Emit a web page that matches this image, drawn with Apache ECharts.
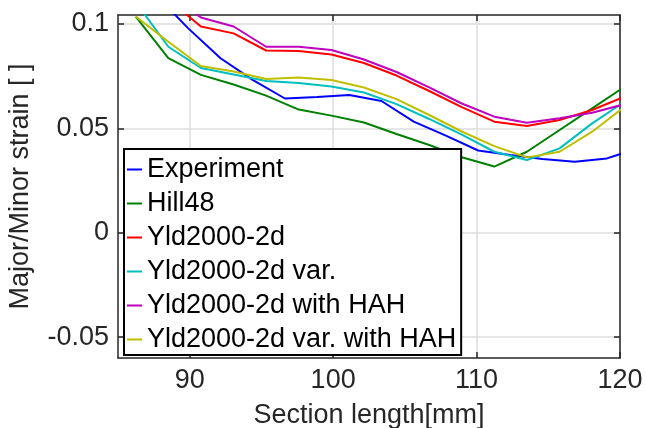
<!DOCTYPE html>
<html>
<head>
<meta charset="utf-8">
<script src="https://cdn.jsdelivr.net/npm/echarts@6/dist/echarts.min.js"></script>
<style>html,body{margin:0;padding:0;background:#fff}#c{width:646px;height:428px}</style>
</head>
<body>
<div id="c"></div>
<script>
var seriesNames = ['Experiment', 'Hill48', 'Yld2000-2d', 'Yld2000-2d var.', 'Yld2000-2d with HAH', 'Yld2000-2d var. with HAH'];
var expX = [87.66, 89.90, 92.15, 94.39, 96.64, 98.88, 101.13, 103.37, 105.62, 107.86, 110.11, 112.35, 114.60, 116.84, 119.09, 121.33];
var experiment = [0.1137, 0.0979, 0.0836, 0.0732, 0.0643, 0.0650, 0.0660, 0.0631, 0.0532, 0.0465, 0.0394, 0.0372, 0.0353, 0.0340, 0.0356, 0.0406];
var modelX = [86.24, 88.51, 90.78, 93.06, 95.33, 97.60, 99.88, 102.15, 104.42, 106.70, 108.97, 111.24, 113.51, 115.79, 118.06, 120.33];
var hill48 = [0.1035, 0.0836, 0.0756, 0.0710, 0.0657, 0.0590, 0.0561, 0.0528, 0.0473, 0.0420, 0.0362, 0.0317, 0.0388, 0.0492, 0.0596, 0.0700];
var yld = [0.125, 0.1118, 0.0988, 0.0955, 0.0873, 0.0871, 0.0854, 0.0813, 0.0753, 0.0679, 0.0602, 0.0532, 0.0511, 0.0540, 0.0588, 0.0652];
var yldVar = [0.1104, 0.0891, 0.0789, 0.0758, 0.0727, 0.0717, 0.0700, 0.0672, 0.0616, 0.0545, 0.0470, 0.0388, 0.0348, 0.0404, 0.0524, 0.0628];
var yldHAH = [0.125, 0.1139, 0.1031, 0.0988, 0.0891, 0.0891, 0.0875, 0.0830, 0.0770, 0.0696, 0.0619, 0.0556, 0.0527, 0.0548, 0.0575, 0.0616];
var yldVarHAH = [0.1036, 0.0915, 0.0799, 0.0772, 0.0736, 0.0744, 0.0732, 0.0696, 0.0640, 0.0564, 0.0485, 0.0415, 0.0361, 0.0388, 0.0484, 0.0604];
var xTicks = [90, 100, 110, 120];
var xTickLabels = ['90', '100', '110', '120'];
var yTicks = [-0.05, 0, 0.05, 0.1];
var yTickLabels = ['-0.05', '0', '0.05', '0.1'];
var colors = ['#0000ff', '#008000', '#ff0000', '#00bfbf', '#bf00bf', '#bfbf00'];

function pairs(xs, ys) { return xs.map(function (x, i) { return [x, ys[i]]; }); }
function labelFor(ticks, labels) {
  return function (v) {
    for (var i = 0; i < ticks.length; i++) { if (Math.abs(ticks[i] - v) < 1e-9) return labels[i]; }
    return '';
  };
}
var FONT = 'Liberation Sans, Arial, sans-serif';
var axisColor = '#262626';
var dataSets = [pairs(expX, experiment), pairs(modelX, hill48), pairs(modelX, yld), pairs(modelX, yldVar), pairs(modelX, yldHAH), pairs(modelX, yldVarHAH)];

var chart = echarts.init(document.getElementById('c'), null, {renderer: 'canvas'});
function mkX(pos, showLabel) {
  return {
    type: 'value', position: pos, min: 85, max: 120,
    name: showLabel ? 'Section length[mm]' : '', nameLocation: 'middle', nameGap: 44,
    nameTextStyle: {fontSize: 27, color: '#262626', fontFamily: FONT},
    axisLine: {show: true, onZero: false, lineStyle: {color: axisColor, width: 1.5}},
    axisTick: {show: true, inside: true, length: 6, customValues: xTicks, lineStyle: {color: axisColor, width: 1.5}},
    axisLabel: {show: showLabel, customValues: xTicks, formatter: labelFor(xTicks, xTickLabels), fontSize: 27, color: '#262626', fontFamily: FONT, margin: 9},
    splitLine: {show: showLabel, lineStyle: {color: '#dcdcdc', width: 1.5}}
  };
}
function mkY(pos, showLabel) {
  return {
    type: 'value', position: pos, min: -0.06, max: 0.1043,
    name: showLabel ? 'Major/Minor strain [ ]' : '', nameLocation: 'middle', nameGap: 84,
    nameTextStyle: {fontSize: 27, color: '#262626', fontFamily: FONT},
    axisLine: {show: true, onZero: false, lineStyle: {color: axisColor, width: 1.5}},
    axisTick: {show: true, inside: true, length: 6, customValues: yTicks, lineStyle: {color: axisColor, width: 1.5}},
    axisLabel: {show: showLabel, customValues: yTicks, formatter: labelFor(yTicks, yTickLabels), fontSize: 27, color: '#262626', fontFamily: FONT, margin: 9},
    splitLine: {show: showLabel, lineStyle: {color: '#dcdcdc', width: 1.5}}
  };
}
chart.setOption({
  animation: false,
  backgroundColor: '#fff',
  grid: {left: 118, right: 26, top: 15, bottom: 70, containLabel: false, outerBoundsMode: 'none'},
  xAxis: [mkX('bottom', true), mkX('top', false)],
  yAxis: [mkY('left', true), mkY('right', false)],
  legend: {
    orient: 'vertical', left: 124, top: 149,
    icon: 'rect', itemWidth: 15, itemHeight: 2, itemGap: 7,
    padding: [7, 5, 2, 3],
    borderColor: '#000', borderWidth: 2, backgroundColor: '#fff',
    textStyle: {fontSize: 27, color: '#000', fontFamily: FONT},
    data: seriesNames
  },
  series: seriesNames.map(function (n, i) {
    return {
      name: n, type: 'line', data: dataSets[i], symbol: 'none', showSymbol: false,
      clip: true, color: colors[i],
      itemStyle: {color: colors[i]},
      lineStyle: {color: colors[i], width: 2}
    };
  })
});
</script>
</body>
</html>
